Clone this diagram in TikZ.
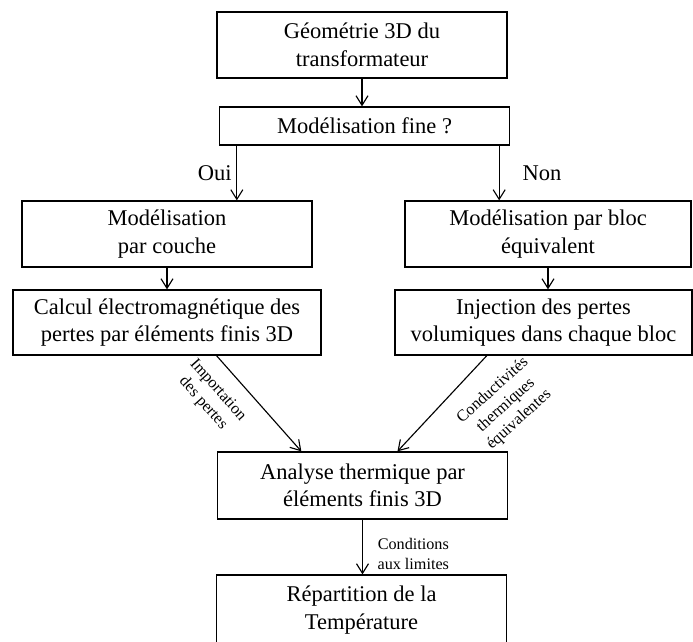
\documentclass[tikz,border=0pt]{standalone}
\usepackage{fontspec}
\setmainfont{Liberation Serif}
\usetikzlibrary{arrows.meta,positioning,calc}

\begin{document}
\begin{tikzpicture}[
    x=0.025cm, y=-0.025cm,
    every node/.style={font=\fontsize{16}{19.5}\selectfont},
    box/.style={
        draw,
        line width=0.9pt,
        align=center,
        inner sep=2pt,
        minimum width=7.25cm,
        minimum height=1.65cm
    },
    lbl/.style={font=\fontsize{11.5}{14}\selectfont, align=center},
    arrow/.style={draw, line width=0.8pt, -{Straight Barb[length=2.4mm,width=3mm]}}
]
\useasboundingbox (0,0) rectangle (693,642);

% boites
\node[box] (geo) at (362,45) {Géométrie 3D du\\transformateur};
\node[box, minimum height=0.95cm] (fine) at (364.5,126) {Modélisation fine ?};
\node[box] (couche) at (167,234) {Modélisation\\par couche};
\node[box, minimum width=7.15cm] (bloc) at (548,234) {Modélisation par bloc\\équivalent};
\node[box, minimum width=7.7cm, minimum height=1.625cm] (calcul) at (167,322.5)
    {Calcul électromagnétique des\\pertes par éléments finis 3D};
\node[box, minimum width=7.425cm, minimum height=1.625cm] (inject) at (543.5,322.5)
    {Injection des pertes\\volumiques dans chaque bloc};
\node[box, minimum height=1.675cm] (analyse) at (362.5,485.5) {Analyse thermique par\\éléments finis 3D};
\node[box, minimum height=1.75cm] (temp) at (361.5,610) {Répartition de la\\Température};

% fleches
\coordinate (oui) at ($(fine.south west)+(18,0)$);
\coordinate (non) at ($(fine.south east)+(-11,0)$);
\draw[arrow] (geo.south) -- (geo.south |- fine.north);
\draw[arrow] (oui) -- (oui |- couche.north) node[midway, left] {Oui};
\draw[arrow] (non) -- (non |- bloc.north) node[midway, right=13pt] {Non};
\draw[arrow] (couche.south) -- (couche.south |- calcul.north);
\draw[arrow] (bloc.south) -- (bloc.south |- inject.north);
\draw[arrow] ($(calcul.south west)!0.66!(calcul.south east)$)
    -- ($(analyse.north west)!0.29!(analyse.north east)$)
    node[lbl, sloped, pos=0.21, below=7pt] {Importation\\des pertes};
\draw[arrow] ($(inject.south west)!0.31!(inject.south east)$)
    -- ($(analyse.north west)!0.62!(analyse.north east)$)
    node[lbl, pos=0.21, xshift=27pt, yshift=-21pt, rotate=42] {Conductivités\\thermiques\\équivalentes};
\draw[arrow] (analyse.south) -- (analyse.south |- temp.north)
    node[lbl, midway, right=7pt, yshift=-5pt] {Conditions\\aux limites};
\end{tikzpicture}
\end{document}
